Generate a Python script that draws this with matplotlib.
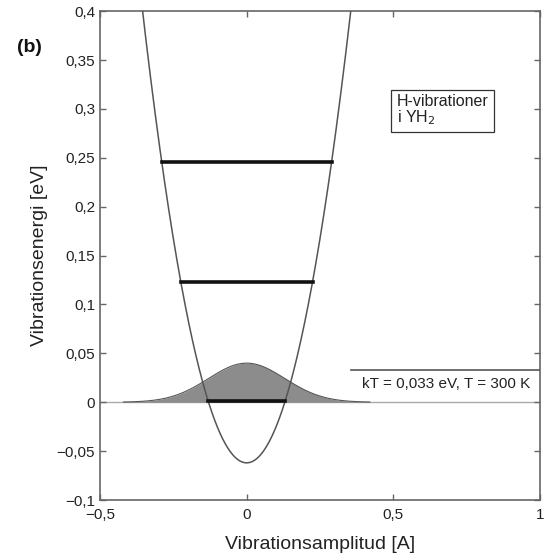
import numpy as np
import matplotlib.pyplot as plt
from matplotlib.ticker import FuncFormatter

plt.rcParams['font.family'] = ['Liberation Sans', 'DejaVu Sans']

# potential well E(x) = a*x^2 + E0
a = 3.67
E0 = -0.062
# vibrational energy levels [eV]
levels = [0.001, 0.123, 0.246]
# occupation (Boltzmann-like) profile
gauss_peak = 0.040
gauss_sigma = 0.13
gauss_range = [-0.42, 0.42]
kT = 0.033

xticks = [-0.5, 0, 0.5, 1]
yticks = [-0.1, -0.05, 0, 0.05, 0.1, 0.15, 0.2, 0.25, 0.3, 0.35, 0.4]

fig = plt.figure(figsize=(5.51, 5.56), dpi=100)
ax = fig.add_axes([0.1815, 0.1007, 0.7985, 0.8793])

ax.axhline(0, color='#aaaaaa', lw=1, zorder=1)

xg = np.linspace(gauss_range[0], gauss_range[1], 300)
yg = gauss_peak * np.exp(-xg**2 / (2 * gauss_sigma**2))
ax.fill_between(xg, 0, yg, color='#8c8c8c', lw=0, zorder=2)
ax.plot(xg, yg, color='#555555', lw=0.8, zorder=3)

x = np.linspace(-0.5, 0.5, 500)
ax.plot(x, a * x**2 + E0, color='#555555', lw=1.1, zorder=4)

for E in levels:
    half = np.sqrt((E - E0) / a)
    ax.plot([-half, half], [E, E], color='#111111', lw=2.6, zorder=5)

ax.plot([0.355, 1.0], [kT, kT], color='#555555', lw=1.2, zorder=3)
ax.text(0.68, 0.0185, 'kT = 0,033 eV, T = 300 K', ha='center', va='center',
        fontsize=11, color='#222222')

ax.text(0.512, 0.3155, 'H-vibrationer\ni YH$_2$', fontsize=11.5, color='#222222',
        ha='left', va='top', linespacing=0.95,
        bbox=dict(boxstyle='square,pad=0.35', fc='white', ec='#333333', lw=0.9))

ax.set_xlim(-0.5, 1)
ax.set_ylim(-0.1, 0.4)
ax.set_xticks(xticks)
ax.set_yticks(yticks)
fmt = FuncFormatter(lambda v, p: ('%g' % v).replace('.', ',').replace('-', '\u2212'))
ax.xaxis.set_major_formatter(fmt)
ax.yaxis.set_major_formatter(fmt)
ax.tick_params(direction='in', top=True, right=True, length=4, width=1,
               color='#666666', labelsize=11, labelcolor='#222222')
ax.tick_params(axis='x', pad=6)
for s in ax.spines.values():
    s.set_color('#666666')
    s.set_linewidth(1.2)

ax.set_xlabel('Vibrationsamplitud [A]', fontsize=14, color='#222222', labelpad=10)
ax.set_ylabel('Vibrationsenergi [eV]', fontsize=14, color='#222222', labelpad=6)

fig.text(0.03, 0.914, '(b)', fontsize=14, fontweight='bold', color='#111111',
         va='center')

fig.savefig('out.png', dpi=100)
